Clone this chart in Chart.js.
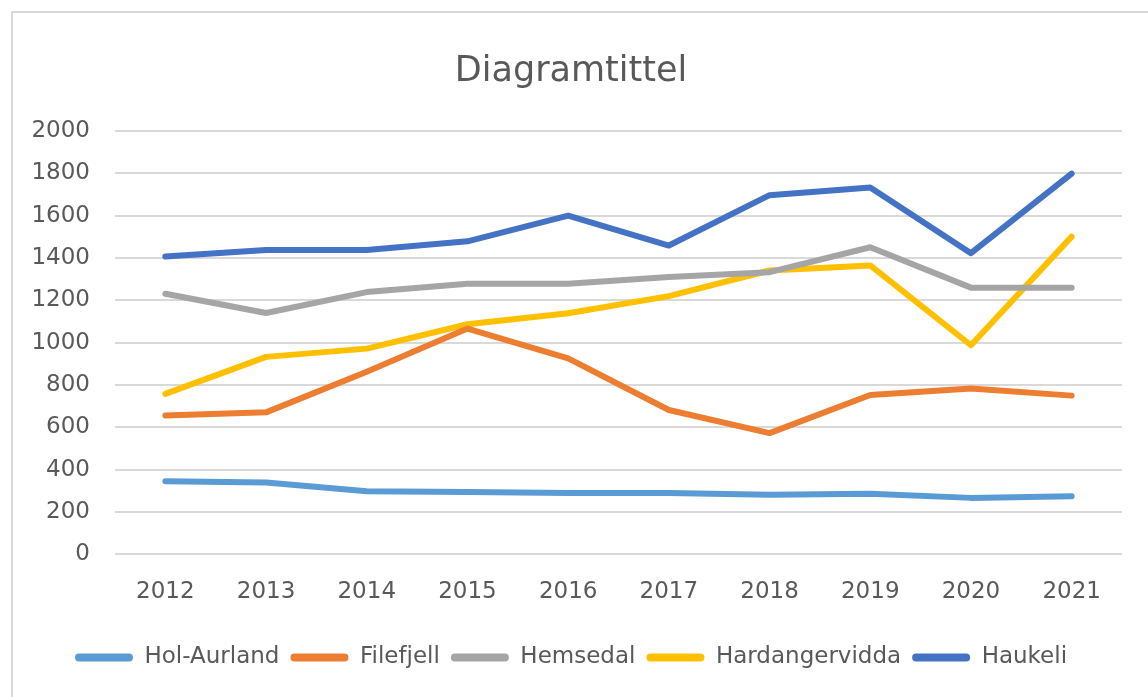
<!DOCTYPE html>
<html>
<head>
<meta charset="utf-8">
<script src="https://cdn.jsdelivr.net/npm/chart.js@4/dist/chart.umd.min.js"></script>
<style>
    html, body { margin: 0; padding: 0; background: #fff; }
    #wrap { position: relative; width: 1148px; height: 697px; overflow: hidden; }
    #frame { position: absolute; left: 11px; top: 11px; width: 1200px; height: 700px;
             border-left: 2px solid #d9d9d9; border-top: 2px solid #d9d9d9; }
    canvas { position: absolute; left: 0; top: 0; }
</style>
</head>
<body>
<div id="wrap">
    <div id="frame"></div>
    <canvas id="lineChart" width="1148" height="697"></canvas>
</div>
<script>
const years = ['2012', '2013', '2014', '2015', '2016', '2017', '2018', '2019', '2020', '2021'];

const holAurland = [345, 340, 298, 295, 290, 290, 282, 287, 267, 275];
const filefjell = [656, 671, 863, 1067, 926, 682, 573, 753, 784, 750];
const hemsedal = [1231, 1140, 1239, 1278, 1278, 1310, 1333, 1451, 1260, 1260];
const hardangervidda = [758, 933, 972, 1087, 1139, 1220, 1341, 1365, 988, 1501];
const haukeli = [1407, 1438, 1438, 1479, 1600, 1459, 1697, 1733, 1423, 1799];

const textColor = '#595959';
const fontFamily = '"DejaVu Sans", sans-serif';

const makeSet = (label, data, color) => ({
    label,
    data,
    borderColor: color,
    backgroundColor: color,
    borderWidth: 6,
    pointRadius: 0,
    pointHoverRadius: 0,
    tension: 0,
    borderJoinStyle: 'round',
    borderCapStyle: 'round',
});

const ctx = document.getElementById('lineChart');

new Chart(ctx, {
    type: 'line',
    data: {
        labels: years,
        datasets: [
            makeSet('Hol-Aurland', holAurland, '#5b9bd5'),
            makeSet('Filefjell', filefjell, '#ed7d31'),
            makeSet('Hemsedal', hemsedal, '#a5a5a5'),
            makeSet('Hardangervidda', hardangervidda, '#ffc000'),
            makeSet('Haukeli', haukeli, '#4472c4'),
        ],
    },
    options: {
        responsive: false,
        animation: false,
        layout: {
            padding: { left: 20, right: 26, top: 51, bottom: 18 },
        },
        plugins: {
            title: {
                display: true,
                text: 'Diagramtittel',
                color: textColor,
                font: { family: fontFamily, size: 35, weight: 'normal' },
                padding: { top: 0, bottom: 38 },
            },
            legend: {
                position: 'bottom',
                labels: {
                    color: textColor,
                    font: { family: fontFamily, size: 23 },
                    boxWidth: 58,
                    boxHeight: 8,
                    padding: 11,
                    useBorderRadius: true,
                    borderRadius: 4,
                    generateLabels: (chart) => Chart.defaults.plugins.legend.labels
                        .generateLabels(chart)
                        .map((item) => ({ ...item, lineWidth: 0 })),
                },
            },
            tooltip: { enabled: false },
        },
        scales: {
            x: {
                offset: true,
                afterFit: (scale) => { scale.height += 13; },
                grid: { display: false },
                border: { display: false },
                ticks: {
                    color: textColor,
                    font: { family: fontFamily, size: 23 },
                    padding: 16,
                    maxRotation: 0,
                },
            },
            y: {
                min: 0,
                max: 2000,
                afterFit: (scale) => { scale.width = 95; },
                grid: { color: '#d9d9d9', lineWidth: 2, drawTicks: false },
                border: { display: false },
                ticks: {
                    stepSize: 200,
                    color: textColor,
                    font: { family: fontFamily, size: 23 },
                    padding: 25,
                    callback: (value) => String(value),
                },
            },
        },
    },
});
</script>
</body>
</html>
